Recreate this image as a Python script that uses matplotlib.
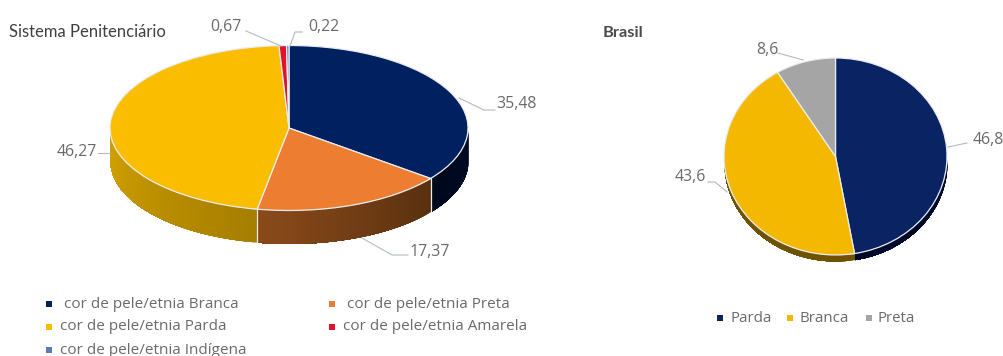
import numpy as np
import matplotlib.pyplot as plt
from matplotlib.colors import to_rgb

plt.rcParams['font.family'] = ['Open Sans', 'DejaVu Sans']

W, H = 1004, 356

# sistema penitenciario
sis_names = ["Branca", "Preta", "Parda", "Amarela", "Indígena"]
sis_values = [35.48, 17.37, 46.27, 0.67, 0.22]
sis_labels = ["35,48", "17,37", "46,27", "0,67", "0,22"]
sis_colors = ["#002060", "#ED7D31", "#FABD00", "#E3122B", "#5B7CB5"]
sis_walls = [("#000A24", "#00081C"), ("#59300F", "#8A4A1A"), ("#A67E00", "#D4A200"),
             ("#8A0A1A", "#8A0A1A"), ("#35507A", "#35507A")]

# brasil
br_names = ["Parda", "Branca", "Preta"]
br_values = [46.8, 43.6, 8.6]
br_labels = ["46,8", "43,6", "8,6"]
br_colors = ["#0A2463", "#F4B800", "#A5A5A5"]
br_walls = [("#000A28", "#000A28"), ("#6E5200", "#6E5200"), ("#666666", "#666666")]

TEXT = "#6A6A6A"
LEADER = "#B4BAC0"


def pie_axes(fig, cx, cy, rx, ry, depth):
    # axes whose data units are the pie radius, so the circle comes out as an ellipse
    pad = 4
    left = cx - rx - pad
    top = cy - ry - pad
    bottom = cy + ry + depth + pad
    ax = fig.add_axes([left / W, 1 - bottom / H, (2 * rx + 2 * pad) / W, (bottom - top) / H])
    return ax, (1 + pad / rx), (1 + pad / ry), (depth + pad) / ry


def draw_pie(fig, cx, cy, rx, ry, depth, values, colors, walls, edge):
    ax, xm, ytop, ylow = pie_axes(fig, cx, cy, rx, ry, depth)
    ax.pie(values, colors=colors, startangle=90, counterclock=False, radius=1,
           wedgeprops={"edgecolor": edge, "linewidth": 0.9})
    ax.set_aspect("auto")
    ax.set_xlim(-xm, xm)
    ax.set_ylim(-1 - ylow, ytop)
    d = depth / ry
    fr = np.cumsum([0] + list(values)) / sum(values) * 2 * np.pi
    for i in range(len(values)):
        a = max(fr[i], np.pi / 2)
        b = min(fr[i + 1], 3 * np.pi / 2)
        if a >= b:
            continue
        # side wall of this slice; each strip runs to the slice end so no seams show
        n = max(int((b - a) / 0.02), 2)
        t = np.linspace(a, b, n + 1)
        c0 = np.array(to_rgb(walls[i][0]))
        c1 = np.array(to_rgb(walls[i][1]))
        for k in range(n):
            tt = np.linspace(t[k], b, n - k + 2)
            c = c0 + (c1 - c0) * k / max(n - 1, 1)
            ax.fill_between(np.sin(tt), np.cos(tt), np.cos(tt) - d, color=c, lw=0, zorder=0.5)
        if fr[i] > np.pi / 2 and depth > 10:
            x = np.sin(fr[i])
            ax.plot([x, x], [np.cos(fr[i]), np.cos(fr[i]) - d], color=edge, lw=0.9, zorder=0.6)
    return ax


fig = plt.figure(figsize=(W / 100, H / 100), dpi=100, facecolor="white")

draw_pie(fig, 289, 128, 179, 82.5, 33, sis_values, sis_colors, sis_walls, "#E9EDF2")
draw_pie(fig, 835.5, 156.5, 111.5, 98.5, 6, br_values, br_colors, br_walls, "#E9EDF2")

# titles, value labels and legends are placed in pixel units on top
ov = fig.add_axes([0, 0, 1, 1], zorder=5)
ov.set_xlim(0, W)
ov.set_ylim(H, 0)
ov.axis("off")
ov.patch.set_alpha(0)

ov.text(9, 32, "Sistema Penitenciário", fontsize=12, color="#404040", va="center", family="Lato")
ov.text(603, 33, "Brasil", fontsize=11.8, color="#4A4A4A", va="center", fontweight="bold", family="Lato")

sis_label_pos = [(226, 27), (324, 27), (517, 104), (430, 252), (77, 152)]
sis_label_order = [3, 4, 0, 1, 2]
for i, (x, y) in zip(sis_label_order, sis_label_pos):
    ov.text(x, y, sis_labels[i], fontsize=11.4, color=TEXT, ha="center", va="center")
br_label_pos = [(988, 140), (690, 177), (767, 50)]
for s, (x, y) in zip(br_labels, br_label_pos):
    ov.text(x, y, s, fontsize=11.4, color=TEXT, ha="center", va="center")

leaders = [
    [(459, 98), (484, 110), (495, 110)],
    [(362, 238), (392, 255), (408, 255)],
    [(110, 153), (98, 153)],
    [(281, 46), (246, 31)],
    [(290, 46), (295, 32), (302, 32)],
    [(948, 147), (967, 143)],
    [(727, 192), (715, 182), (708, 182)],
    [(803, 60), (778, 53)],
]
for pts in leaders:
    xs, ys = zip(*pts)
    ov.plot(xs, ys, color=LEADER, lw=0.8)

legend_rows = [
    (49, 304, 64, sis_colors[0], "cor de pele/etnia " + sis_names[0]),
    (332, 304, 347, sis_colors[1], "cor de pele/etnia " + sis_names[1]),
    (49, 327, 60, sis_colors[2], "cor de pele/etnia " + sis_names[2]),
    (332, 327, 343, sis_colors[3], "cor de pele/etnia " + sis_names[3]),
    (49, 350, 60, sis_colors[4], "cor de pele/etnia " + sis_names[4]),
]
for mx, y, tx, c, s in legend_rows:
    ov.scatter([mx], [y], marker="s", s=16, color=c, lw=0)
    ov.text(tx, y, s, fontsize=11, color=TEXT, va="center")

br_legend_x = [(720, 731), (790, 800), (869, 878)]
for (mx, tx), c, s in zip(br_legend_x, br_colors, br_names):
    ov.scatter([mx], [318], marker="s", s=16, color=c, lw=0)
    ov.text(tx, 318, s, fontsize=10.8, color=TEXT, va="center")

fig.savefig("out.png", dpi=100)
